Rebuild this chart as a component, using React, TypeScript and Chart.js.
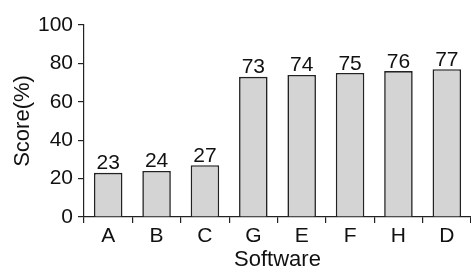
import React, { useEffect, useRef } from "react";
import { Chart, registerables } from "chart.js";

Chart.register(...registerables);

const categories = ["A", "B", "C", "G", "E", "F", "H", "D"];
const scores = [23, 24, 27, 73, 74, 75, 76, 77];
const yTicks = [0, 20, 40, 60, 80, 100];

const FONT = "'Liberation Sans', Arial, Helvetica, sans-serif";

const valueLabels = {
  id: "valueLabels",
  afterDatasetsDraw(chart: any) {
    const { ctx } = chart;
    const meta = chart.getDatasetMeta(0);
    ctx.save();
    ctx.font = `21px ${FONT}`;
    ctx.fillStyle = "#111";
    ctx.textAlign = "center";
    ctx.textBaseline = "alphabetic";
    meta.data.forEach((bar: any, i: number) => {
      ctx.fillText(String(scores[i]), bar.x, bar.y - 3.5);
    });
    ctx.restore();
  },
};

export default function App() {
  const ref = useRef<HTMLCanvasElement | null>(null);
  useEffect(() => {
    if (!ref.current) return;
    const chart = new Chart(ref.current, {
      type: "bar",
      data: {
        labels: categories,
        datasets: [
          {
            data: scores,
            backgroundColor: "#d4d4d4",
            borderColor: "#222",
            borderWidth: 1.6,
            barPercentage: 0.59,
            categoryPercentage: 1,
          },
        ],
      },
      options: {
        animation: false,
        responsive: false,
        maintainAspectRatio: false,
        layout: { padding: { top: 25, right: 0, left: 0, bottom: 0 } },
        plugins: { legend: { display: false }, tooltip: { enabled: false } },
        scales: {
          x: {
            afterFit: (s: any) => {
              s.height = 53;
            },
            border: { color: "#222", width: 1.2 },
            grid: {
              drawOnChartArea: false,
              drawTicks: true,
              tickLength: 6,
              color: "#222",
              lineWidth: 1.2,
            },
            ticks: { color: "#111", font: { family: FONT, size: 21 }, padding: 1 },
            title: {
              display: true,
              text: "Software",
              color: "#111",
              font: { family: FONT, size: 22 },
              padding: { top: 0, bottom: -3 },
            },
          },
          y: {
            min: 0,
            max: 100,
            afterFit: (s: any) => {
              s.width = 84;
            },
            afterBuildTicks: (s: any) => {
              s.ticks = yTicks.map((v) => ({ value: v }));
            },
            border: { color: "#222", width: 1.2 },
            grid: {
              drawOnChartArea: false,
              drawTicks: true,
              tickLength: 6,
              color: "#222",
              lineWidth: 1.2,
            },
            ticks: { color: "#111", font: { family: FONT, size: 21 }, padding: 5 },
            title: {
              display: true,
              text: "Score(%)",
              color: "#111",
              font: { family: FONT, size: 22 },
              padding: { top: 10, bottom: 0 },
            },
          },
        },
      },
      plugins: [valueLabels],
    });
    return () => chart.destroy();
  }, []);
  return (
    <div style={{ position: "fixed", left: 0, top: 0, width: 471, height: 270, background: "#fff" }}>
      <canvas ref={ref} width={471} height={270} style={{ display: "block" }} />
    </div>
  );
}
